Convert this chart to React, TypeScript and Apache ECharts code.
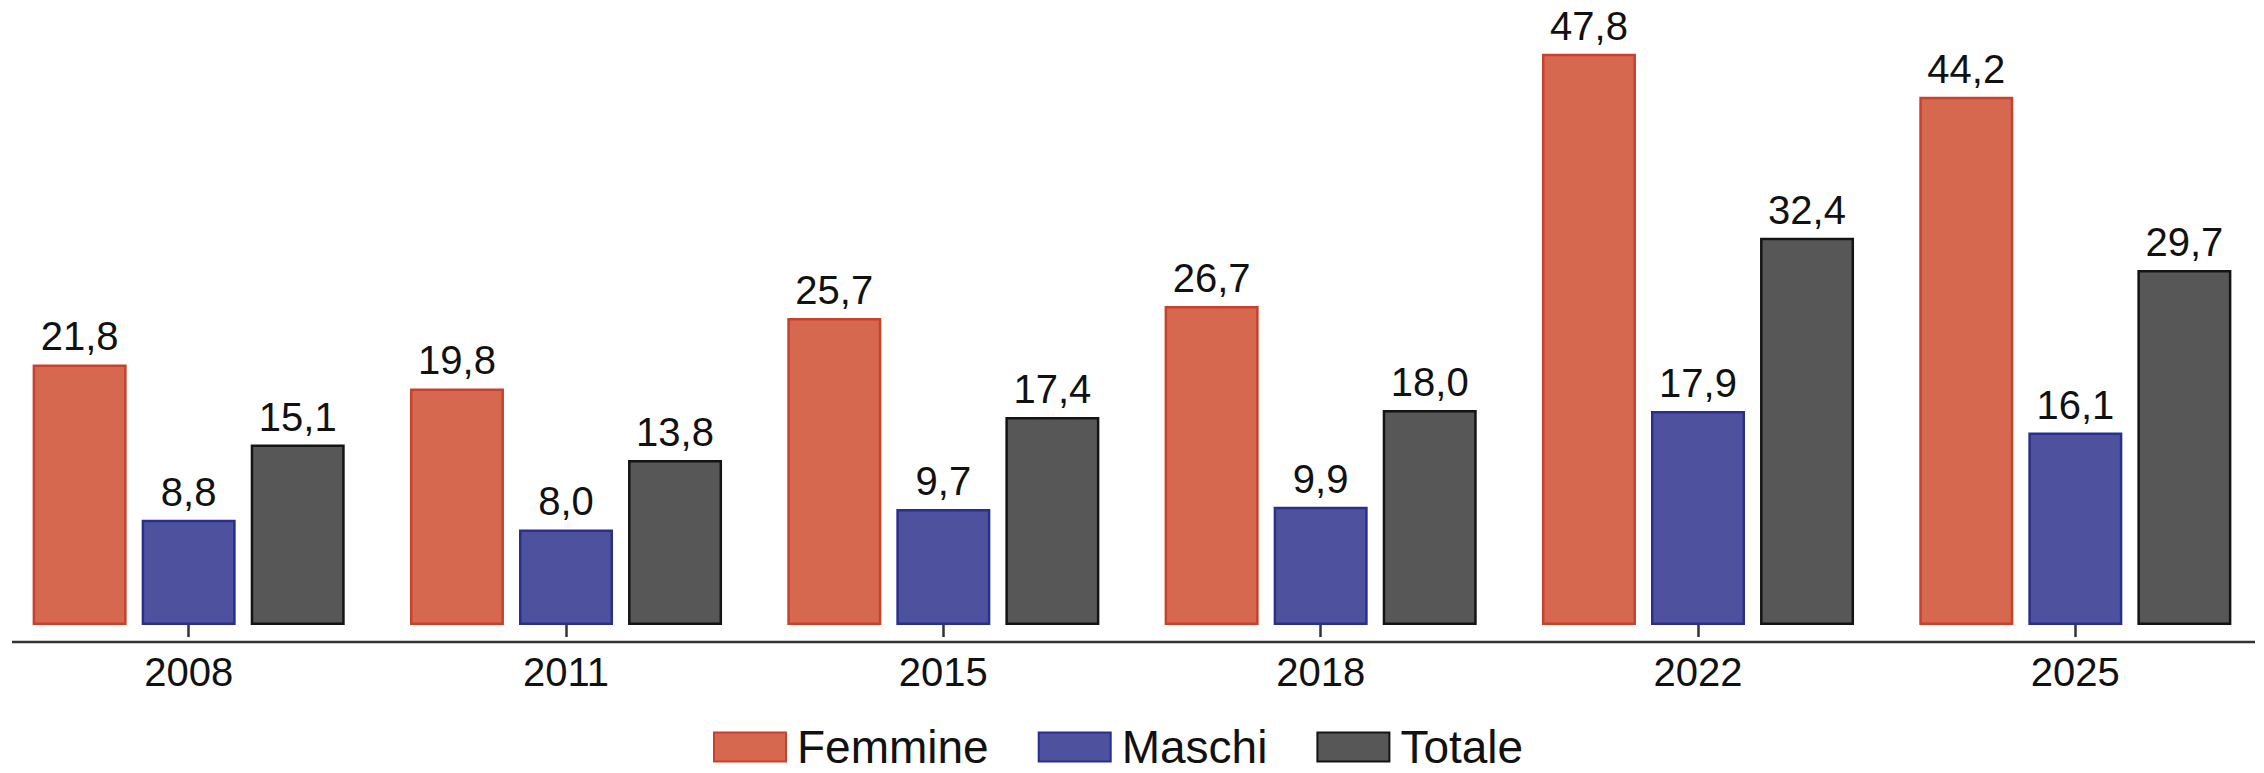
import React, { useEffect, useRef } from "react";
import * as echarts from "echarts";

const years = ["2008", "2011", "2015", "2018", "2022", "2025"];
const femmine = [21.8, 19.8, 25.7, 26.7, 47.8, 44.2];
const maschi = [8.8, 8.0, 9.7, 9.9, 17.9, 16.1];
const totale = [15.1, 13.8, 17.4, 18.0, 32.4, 29.7];

const FONT = "'Liberation Sans', Arial, sans-serif";

const fmt = (p: any) => Number(p.value).toFixed(1).replace(".", ",");

export default function App() {
  const ref = useRef<HTMLDivElement>(null);
  useEffect(() => {
    if (!ref.current) return;
    const chart = echarts.init(ref.current, null, { renderer: "svg" });
    const label = {
      show: true,
      position: "top" as const,
      distance: 8,
      formatter: fmt,
      color: "#111111",
      fontSize: 40,
      fontFamily: FONT,
    };
    const mk = (name: string, data: number[], fill: string, border: string) => ({
      name,
      type: "bar" as const,
      data,
      barWidth: 94,
      barGap: "16%",
      itemStyle: { color: fill, borderColor: border, borderWidth: 2.5 },
      label,
    });
    chart.setOption({
      animation: false,
      grid: { left: -3.5, right: -6.5, top: 27.5, bottom: 148, containLabel: false },
      legend: {
        data: ["Femmine", "Maschi", "Totale"],
        top: 724,
        left: 713,
        itemWidth: 72,
        itemHeight: 29,
        itemGap: 49,
        icon: "rect",
        padding: 0,
        textStyle: {
          fontSize: 46,
          lineHeight: 40,
          fontFamily: FONT,
          color: "#111111",
          padding: [0, 0, 0, 6],
        },
      },
      xAxis: {
        type: "category",
        data: years,
        offset: 17,
        axisLine: { show: false },
        axisTick: { show: true, alignWithLabel: true, length: 12, lineStyle: { color: "#333333", width: 2.5 } },
        axisLabel: { fontSize: 40, fontFamily: FONT, color: "#111111", margin: 10 },
      },
      yAxis: {
        type: "value",
        min: 0,
        max: 50,
        show: false,
        splitLine: { show: false },
      },
      graphic: [
        {
          type: "line",
          shape: { x1: 12, y1: 642, x2: 2255, y2: 642 },
          style: { stroke: "#333333", lineWidth: 2.5 },
          z: 10,
        },
      ],
      series: [
        mk("Femmine", femmine, "#D6684F", "#C8412C"),
        mk("Maschi", maschi, "#4E519D", "#29308C"),
        mk("Totale", totale, "#575757", "#141414"),
      ],
    });
    return () => chart.dispose();
  }, []);
  return (
    <div
      ref={ref}
      style={{ position: "fixed", left: 0, top: 0, width: 2264, height: 773, background: "#ffffff" }}
    />
  );
}
